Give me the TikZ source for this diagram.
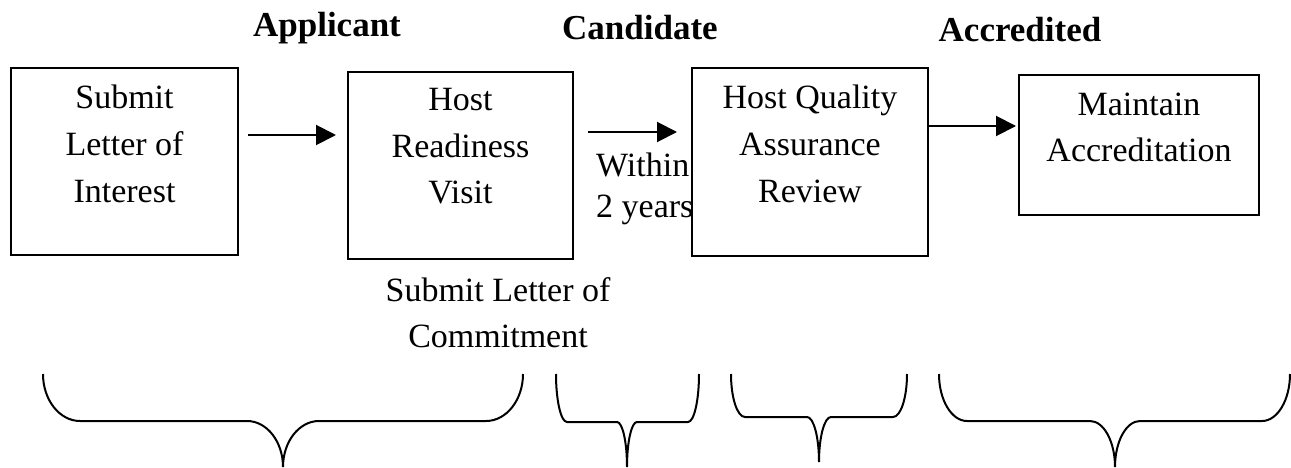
\documentclass[tikz,border=0pt]{standalone}
\usepackage{fontspec}
\setmainfont{Liberation Serif}
\usetikzlibrary{arrows.meta,calc}
% L R T M B C rx w
\newcommand{\stagebrace}[8]{%
  \draw[bracepath] (#1,#3) .. controls (#1,{#3+0.552*(#4-#3)}) and ({#1+#7-0.552*#7},#4) .. ({#1+#7},#4)
   -- ({#6-#8},#4) .. controls ({#6-#8+0.552*#8},#4) and (#6,{#5-0.552*(#5-#4)}) .. (#6,#5)
   .. controls (#6,{#5-0.552*(#5-#4)}) and ({#6+#8-0.552*#8},#4) .. ({#6+#8},#4)
   -- ({#2-#7},#4) .. controls ({#2-#7+0.552*#7},#4) and (#2,{#3+0.552*(#4-#3)}) .. (#2,#3);}
\begin{document}
\begin{tikzpicture}[x=1pt,y=-1pt,
  box/.style={draw, line width=2pt, inner sep=0pt, rectangle},
  boxtext/.style={align=center, anchor=base, inner sep=0pt, font=\fontsize{34}{46.5}\selectfont},
  stage/.style={anchor=base, inner sep=0pt, font=\fontsize{35}{42}\selectfont\bfseries},
  flow/.style={line width=2pt, -{Triangle[length=20pt,width=20pt]}},
  bracepath/.style={line width=2pt}]
\useasboundingbox (0,0) rectangle (1291,468);

% stage labels
\node[stage] (applicant) at (327,37) {Applicant};
\node[stage] (candidate) at (640,40) {Candidate};
\node[stage] (accredited) at (1020,42) {Accredited};

% boxes
\node[box, minimum width=227pt, minimum height=187pt] (b1) at (124.5,161.5) {};
\node[box, minimum width=225pt, minimum height=187pt] (b2) at (460.5,165.5) {};
\node[box, minimum width=236pt, minimum height=188pt] (b3) at (810,162) {};
\node[box, minimum width=240pt, minimum height=140pt] (b4) at (1139,145) {};

% box texts (anchor = baseline of last line)
\node[boxtext] (t1) at (124.5,202) {Submit\\Letter of\\Interest};
\node[boxtext] (t2) at (460.5,204) {Host\\Readiness\\Visit};
\node[boxtext] (t3) at (810,202) {Host Quality\\Assurance\\Review};
\node[boxtext] (t4) at (1139,162) {Maintain\\Accreditation};

% side texts
\node[boxtext, align=left, anchor=base west, font=\fontsize{34}{40}\selectfont] (within) at (596,217) {Within\\2 years};
\node[boxtext, font=\fontsize{34}{46}\selectfont] (commit) at (498,347) {Submit Letter of\\Commitment};

% arrows
\draw[flow] ($(b1.east |- 0,135)+(9,0)$) -- ($(b2.west |- 0,135)+(-11,0)$);
\draw[flow] ($(b2.east |- 0,132)+(14,0)$) -- ($(b3.west |- 0,132)+(-14,0)$);
\draw[flow] (b3.east |- 0,126) -- ($(b4.west |- 0,126)+(-2,0)$);

% braces
\stagebrace{43}{523}{374}{421}{467}{283}{37}{36}
\stagebrace{556}{699}{374}{422}{467}{627}{11}{10}
\stagebrace{731}{907}{374}{417}{462}{819}{14}{12}
\stagebrace{939}{1290}{374}{421}{467}{1115}{28}{25}
\end{tikzpicture}
\end{document}
